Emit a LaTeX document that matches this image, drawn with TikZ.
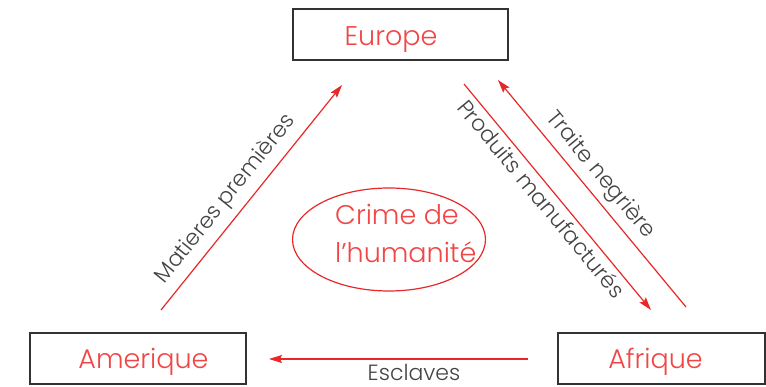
\documentclass[tikz,border=0pt]{standalone}
\usepackage{fontspec}
\setmainfont{Poppins}[UprightFont=* Light]
\usetikzlibrary{arrows.meta,shapes.geometric}
\definecolor{txtred}{RGB}{240,70,70}
\definecolor{linered}{RGB}{232,40,40}
\definecolor{lblgray}{RGB}{68,68,68}
\definecolor{boxgray}{RGB}{50,50,50}
\begin{document}
\begin{tikzpicture}[x=1pt,y=-1pt,
  box/.style={draw=boxgray,line width=1.1pt,minimum height=51pt,inner sep=0pt},
  boxtxt/.style={text=txtred,font=\fontsize{27}{30}\selectfont,anchor=base,inner sep=0pt},
  flow/.style={draw=linered,line width=1.2pt,-{Stealth[length=13pt,width=8pt,inset=2pt]}},
  lbl/.style={text=lblgray,font=\fontsize{22}{25}\selectfont,inner sep=0pt,sloped}]
\useasboundingbox (0,0) rectangle (766,387);
% boxes
\node[box,minimum width=215pt] (eur) at (400.5,34.5) {};
\node[box,minimum width=216pt] (ame) at (138,358.5) {};
\node[box,minimum width=207pt] (afr) at (661.5,358.5) {};
\node[boxtxt] (eurt) at (391,46) {Europe};
\node[boxtxt] (amet) at (143.5,369) {Amerique};
\node[boxtxt] (afrt) at (655.5,369) {Afrique};
% ellipse
\node[draw=linered,line width=1.2pt,ellipse,minimum width=193pt,minimum height=103pt] (crime) at (389,239.5) {};
\node[text=txtred,font=\fontsize{27}{38}\selectfont,align=left,anchor=base west,inner sep=0pt] (crimet) at (335,263) {Crime de\\l’humanité};
% connector ends
\coordinate (m1) at (161,310);
\coordinate (m2) at (342,85);
\coordinate (p1) at (464,84);
\coordinate (p2) at (651,310);
\coordinate (t1) at (686,307);
\coordinate (t2) at (498,80);
\coordinate (e1) at (528,359);
\coordinate (e2) at (269,359);
% flows
\draw[flow] (m1) -- node[lbl,pos=0.44,above=7pt] {Matieres premières} (m2);
\draw[flow] (p1) -- node[lbl,pos=0.47,below=4pt] {Produits manufacturés} (p2);
\draw[flow] (t1) -- node[lbl,pos=0.53,above=6pt] {Traite negrière} (t2);
\draw[flow] (e1) -- node[lbl,pos=0.44,below=5pt] {Esclaves} (e2);
\end{tikzpicture}
\end{document}
